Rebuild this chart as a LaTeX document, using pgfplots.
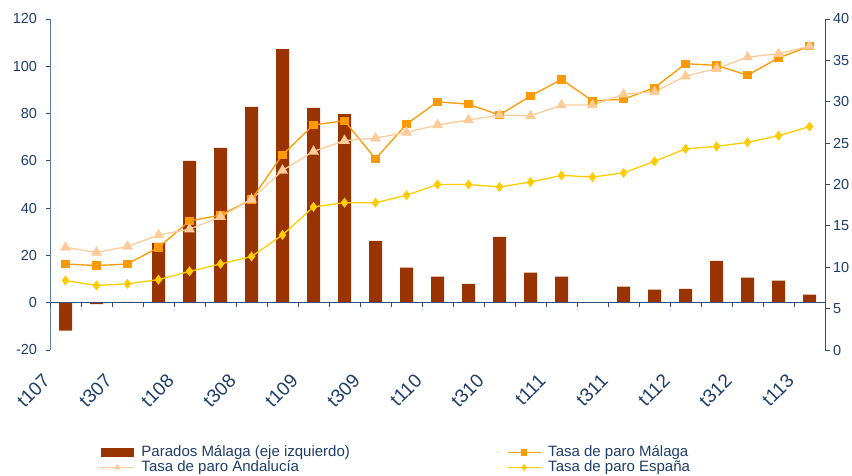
\documentclass[border=0pt]{standalone}
\usepackage{fontspec}
\setmainfont{Liberation Sans}
\usepackage{pgfplots}
\pgfplotsset{compat=1.18}

\definecolor{barcol}{HTML}{993300}
\definecolor{malaga}{HTML}{FF9900}
\definecolor{andalucia}{HTML}{FFCC99}
\definecolor{espana}{HTML}{FFCC00}
\definecolor{axiscol}{HTML}{2F4F7A}
\definecolor{axisleft}{HTML}{5B7BA3}
\definecolor{textcol}{HTML}{1F3D6B}

% quarters t107 ... t113 at x = 0..24
\pgfplotstableread{
x parados
0 -11.8
1 -0.6
2 0.4
3 25.3
4 60.0
5 65.5
6 82.8
7 107.3
8 82.4
9 79.8
10 26.2
11 14.8
12 11.0
13 8.0
14 27.9
15 12.7
16 11.0
17 0
18 6.8
19 5.5
20 5.9
21 17.7
22 10.6
23 9.3
24 3.4
}\parados

\pgfplotstableread{
x malaga andalucia espana
0 10.4 12.4 8.4
1 10.2 11.8 7.8
2 10.4 12.5 8.0
3 12.4 13.9 8.5
4 15.6 14.6 9.5
5 16.3 16.1 10.4
6 18.2 18.2 11.3
7 23.6 21.7 13.9
8 27.2 24.0 17.3
9 27.7 25.3 17.8
10 23.1 25.6 17.8
11 27.3 26.3 18.7
12 30.0 27.2 20.0
13 29.7 27.8 20.0
14 28.4 28.4 19.7
15 30.7 28.3 20.3
16 32.7 29.6 21.1
17 30.1 29.6 20.9
18 30.3 30.9 21.4
19 31.7 31.2 22.8
20 34.6 33.1 24.3
21 34.4 34.0 24.6
22 33.2 35.4 25.1
23 35.3 35.8 25.9
24 36.7 36.7 27.0
}\tasas

\pgfplotsset{
  common/.style={
    scale only axis, width=775pt, height=331pt,
    xmin=-0.5, xmax=24.5,
    tick align=outside, major tick length=4.5pt,
    tick style={axiscol, line width=0.8pt},
    axis line style={axiscol, line width=0.8pt, -},
    tick label style={font=\fontsize{14.5}{16}\selectfont, text=textcol},
    /pgf/number format/assume math mode=true,
  },
}

\begin{document}
\begin{tikzpicture}
% bars, left axis
\begin{axis}[
  common,
  ymin=-20, ymax=120,
  axis x line=none, axis y line*=left,
  y axis line style={axisleft},
  ytick={-20,0,...,120},
  yticklabel style={xshift=-5pt},
]
\addplot[ybar, bar width=13pt, fill=barcol, draw=none] table[x=x, y=parados] {\parados};
\end{axis}

% category axis, its line at zero of the left axis
\begin{axis}[
  common,
  at={(0pt,47.29pt)}, anchor=south west, height=283.71pt,
  ymin=0, ymax=1,
  axis x line*=bottom, axis y line=none,
  xtick={0,2,...,24},
  xticklabels={t107,t307,t108,t308,t109,t309,t110,t310,t111,t311,t112,t312,t113},
  major tick length=0pt,
  minor xtick={-0.5,0.5,...,24.5}, minor tick length=4.5pt,
  xticklabel style={font=\fontsize{19}{21}\selectfont, text=textcol,
    inner sep=0pt, yshift=-75pt, xshift=-19pt, rotate=45, anchor=east},
]
\end{axis}

% rates, right axis
\begin{axis}[
  common,
  ymin=0, ymax=40,
  axis x line=none, axis y line*=right,
  ytick={0,5,...,40},
  legend columns=2,
  legend cell align=left,
  legend style={at={(0.0645,-0.2885)}, anchor=north west, draw=none, fill=none,
    inner sep=0pt, font=\fontsize{15}{16}\selectfont, text=textcol,
    nodes={inner sep=0pt, text height=10.5pt, text depth=3pt},
    row sep=1.5pt,
    /tikz/every odd column/.append style={column sep=7pt},
    /tikz/every even column/.append style={column sep=157pt}},
  every axis plot/.append style={line width=1.3pt,
    legend image code/.code={\draw[mark repeat=2, mark phase=2, #1, mark size=2.5pt]
      plot coordinates {(0pt,0pt) (16.5pt,0pt) (33pt,0pt)};}},
]
\coordinate (bl) at (rel axis cs:0,0);
\coordinate (tr) at (rel axis cs:1,1);
\addlegendimage{fill=barcol, draw=none,
  legend image code/.code={\fill[barcol] (0pt,-4.5pt) rectangle (33pt,4.5pt);}}
\addlegendentry{Parados Málaga (eje izquierdo)}
\addplot[color=malaga, mark=square*, mark size=3.5pt, mark options={fill=malaga}]
  table[x=x, y=malaga] {\tasas};
\addlegendentry{Tasa de paro Málaga}
\addplot[color=andalucia, mark=triangle*, mark size=5pt, mark options={fill=andalucia}]
  table[x=x, y=andalucia] {\tasas};
\addlegendentry{Tasa de paro Andalucía}
\addplot[color=espana, mark=diamond*, mark size=4pt, mark options={fill=espana}]
  table[x=x, y=espana] {\tasas};
\addlegendentry{Tasa de paro España}
\end{axis}
\pgfresetboundingbox
\path ([xshift=-50pt, yshift=-125pt]bl) rectangle ([xshift=27pt, yshift=19pt]tr);
\end{tikzpicture}
\end{document}
